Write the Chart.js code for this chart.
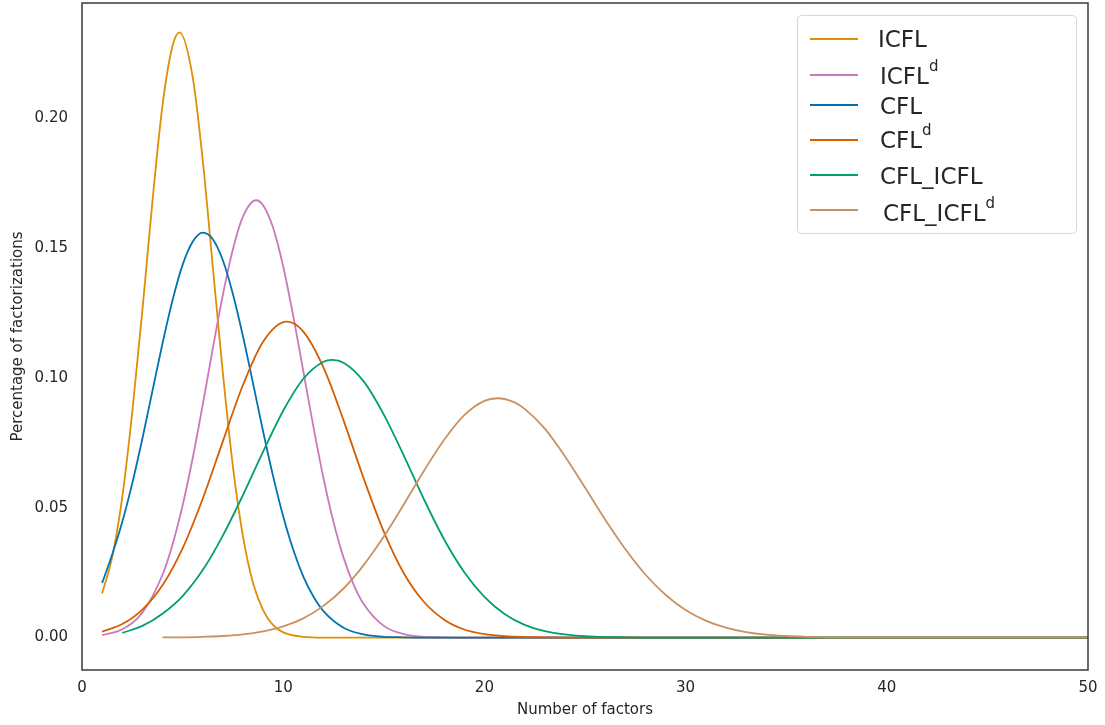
<!DOCTYPE html>
<html>
<head>
<meta charset="utf-8">
<script src="https://cdn.jsdelivr.net/npm/chart.js@4.4.1/dist/chart.umd.min.js"></script>
<style>
  html, body { margin: 0; padding: 0; background: #fff; }
  canvas { display: block; }
</style>
</head>
<body>
<canvas id="chart" width="1105" height="725"></canvas>
<script>
// ── Data ──────────────────────────────────────────────────────────────────────
const labelBase = ['ICFL', 'ICFL', 'CFL', 'CFL', 'CFL_ICFL', 'CFL_ICFL'];
const labelSup  = ['',     'd',    '',    'd',   '',         'd'];
const colors    = ['#DE8F05', '#CC78BC', '#0173B2', '#D55E00', '#029E73', '#CA9161'];

const xTicks = [0, 10, 20, 30, 40, 50];
const yTicks = [0, 0.05, 0.10, 0.15, 0.20];

const icflX = [1, 1.5, 2, 2.5, 3, 3.5, 4, 4.5, 4.85, 5.5, 6, 6.5, 7, 7.5, 8, 8.5, 9, 9.5, 10, 11, 12, 13, 50];
const icflY = [0.017, 0.031, 0.054, 0.087, 0.126, 0.168, 0.205, 0.228, 0.2332, 0.216, 0.184, 0.143,
               0.102, 0.066, 0.039, 0.021, 0.0106, 0.0048, 0.002, 0.0003, 0, 0, 0];

const icflDX = [1, 2, 3, 4, 4.5, 5, 5.5, 6, 6.5, 7, 7.5, 8, 8.65, 9, 9.5, 10, 10.5, 11, 11.5, 12, 12.5,
                13, 13.5, 14, 15, 16, 17, 18, 19, 50];
const icflDY = [0.0009, 0.0032, 0.0096, 0.0242, 0.0359, 0.0509, 0.0691, 0.0897, 0.1113, 0.132, 0.1496, 0.1622,
                0.1685, 0.1666, 0.1579, 0.143, 0.1239, 0.1026, 0.0813, 0.0615, 0.0445, 0.0308, 0.0204,
                0.0129, 0.0045, 0.0013, 0.0003, 0.0001, 0, 0];

const cflX = [1, 1.5, 2, 2.5, 3, 3.5, 4, 4.5, 5, 5.5, 6, 6.5, 7, 7.5, 8, 8.5, 9, 9.5, 10, 10.5, 11, 11.5, 12,
              13, 14, 15, 16, 17, 50];
const cflY = [0.021, 0.032, 0.0445, 0.0595, 0.0766, 0.095, 0.1133, 0.130, 0.1436, 0.1525, 0.156, 0.1535, 0.1454,
              0.1324, 0.1161, 0.098, 0.0795, 0.0621, 0.0467, 0.0338, 0.0235, 0.0158, 0.0102, 0.0038, 0.0012,
              0.0003, 0.0001, 0, 0];

const cflDX = [1, 2, 3, 4, 5, 6, 7, 8, 9, 10.18, 11, 12, 13, 14, 15, 16, 17, 18, 19, 20, 21, 22, 23, 24, 50];
const cflDY = [0.0023, 0.0052, 0.0108, 0.0202, 0.0344, 0.0535, 0.0756, 0.0973, 0.114, 0.1217, 0.1179,
               0.1041, 0.0837, 0.0613, 0.0408, 0.0247, 0.0137, 0.0069, 0.0031, 0.0013, 0.0005, 0.0002, 0.0001, 0, 0];

const cflIcflX = [2, 3, 4, 5, 6, 7, 8, 9, 10, 11, 12, 12.45, 13, 14, 15, 16, 17, 18, 19, 20, 21, 22, 23, 24,
                  25, 26, 27, 28, 50];
const cflIcflY = [0.0018, 0.0045, 0.0092, 0.016, 0.026, 0.0393, 0.0549, 0.0716, 0.0874, 0.0997, 0.1063, 0.107,
                  0.1059, 0.0987, 0.0859, 0.070, 0.0532, 0.0378, 0.0252, 0.0157, 0.0091, 0.0049, 0.0025, 0.0012,
                  0.0005, 0.0002, 0.0001, 0, 0];

const cflIcflDX = [4, 5, 6, 7, 8, 9, 10, 11, 12, 13, 14, 15, 16, 17, 18, 19, 20, 20.65, 21.5, 22, 23, 24, 25, 26,
                   27, 28, 29, 30, 31, 32, 33, 34, 35, 36, 37, 38, 50];
const cflIcflDY = [0.00005, 0.0001, 0.0003, 0.0006, 0.0012, 0.0024, 0.0043, 0.0074, 0.0122, 0.0189, 0.0279,
                   0.0389, 0.0514, 0.0643, 0.0762, 0.0857, 0.0912, 0.0922, 0.0906, 0.0881, 0.0805, 0.0699, 0.0578,
                   0.0455, 0.0341, 0.0243, 0.0165, 0.0106, 0.0065, 0.0038, 0.0021, 0.0011, 0.0006, 0.0003,
                   0.0001, 0, 0];

const seriesX = [icflX, icflDX, cflX, cflDX, cflIcflX, cflIcflDX];
const seriesY = [icflY, icflDY, cflY, cflDY, cflIcflY, cflIcflDY];

// ── Style ─────────────────────────────────────────────────────────────────────
const FONT = '"DejaVu Sans", sans-serif';
const TEXT = '#262626';

// frame round the plot area (seaborn "white" style)
const framePlugin = {
  id: 'frame',
  afterDatasetsDraw(chart) {
    const { ctx, chartArea: a } = chart;
    ctx.save();
    ctx.strokeStyle = '#3a3a3a';
    ctx.lineWidth = 1.5;
    ctx.strokeRect(a.left, a.top, a.right - a.left, a.bottom - a.top);
    ctx.restore();
  }
};

// legend with superscripts, drawn by hand
const legendPlugin = {
  id: 'supLegend',
  afterDraw(chart) {
    const ctx = chart.ctx;
    const rowLine = [39, 75, 105, 140, 175, 210];
    const rowBase = [47, 84, 114, 148, 184, 221];
    ctx.save();
    ctx.beginPath();
    ctx.roundRect(797.5, 15.5, 279, 218, 4);
    ctx.fillStyle = 'rgba(255,255,255,0.85)';
    ctx.fill();
    ctx.strokeStyle = '#d6d6d6';
    ctx.lineWidth = 1;
    ctx.stroke();
    labelBase.forEach((txt, i) => {
      ctx.strokeStyle = colors[i];
      ctx.lineWidth = 2;
      ctx.beginPath();
      ctx.moveTo(810, rowLine[i]);
      ctx.lineTo(858, rowLine[i]);
      ctx.stroke();
      ctx.fillStyle = TEXT;
      ctx.textBaseline = 'alphabetic';
      ctx.font = '23px ' + FONT;
      const tx = i === 0 ? 878 : (i === 5 ? 883 : 880);
      ctx.fillText(txt, tx, rowBase[i]);
      if (labelSup[i]) {
        const w = ctx.measureText(txt).width;
        ctx.font = '15px ' + FONT;
        ctx.fillText(labelSup[i], tx + w, rowBase[i] - 13);
      }
    });
    ctx.restore();
  }
};

const datasets = seriesX.map((xs, i) => ({
  label: labelBase[i] + labelSup[i],
  data: xs.map((x, j) => ({ x, y: seriesY[i][j] })),
  borderColor: colors[i],
  borderWidth: 1.8,
  pointRadius: 0,
  fill: false,
  cubicInterpolationMode: 'monotone',
  order: seriesX.length - i   // later series on top, like matplotlib
}));

new Chart(document.getElementById('chart'), {
  type: 'line',
  data: { datasets },
  options: {
    responsive: false,
    animation: false,
    layout: { padding: { top: 3, right: 17, left: 0, bottom: 0 } },
    plugins: { legend: { display: false }, tooltip: { enabled: false } },
    scales: {
      x: {
        type: 'linear',
        min: 0, max: 50,
        afterBuildTicks: s => { s.ticks = xTicks.map(v => ({ value: v })); },
        afterFit: s => { s.height = 55; s.paddingLeft = 0; s.paddingRight = 0; },
        grid: { display: false, drawTicks: false },
        border: { display: false },
        ticks: { color: TEXT, padding: 9, font: { family: FONT, size: 15 } },
        title: { display: true, text: 'Number of factors', color: TEXT,
                 font: { family: FONT, size: 15 }, padding: { top: 0, bottom: 6 } }
      },
      y: {
        min: -0.0125, max: 0.2445,
        afterBuildTicks: s => { s.ticks = yTicks.map(v => ({ value: v })); },
        afterFit: s => { s.width = 82; s.paddingTop = 0; s.paddingBottom = 0; },
        grid: { display: false, drawTicks: false },
        border: { display: false },
        ticks: { color: TEXT, padding: 14, font: { family: FONT, size: 15 },
                 callback: v => v.toFixed(2) },
        title: { display: true, text: 'Percentage of factorizations', color: TEXT,
                 font: { family: FONT, size: 15 }, padding: { top: 9, bottom: 0 } }
      }
    }
  },
  plugins: [framePlugin, legendPlugin]
});
</script>
</body>
</html>
